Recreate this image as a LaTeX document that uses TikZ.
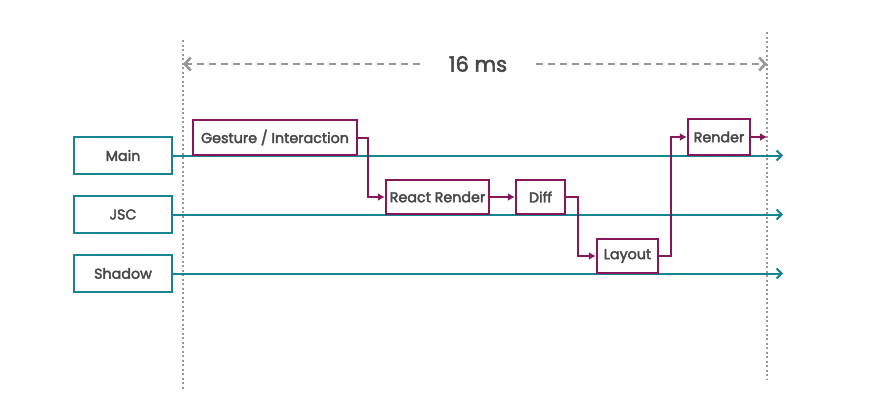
\documentclass[tikz,border=0pt]{standalone}
\usepackage{fontspec}
\setmainfont{Poppins}
\newfontfamily\labelfont{Poppins}[FakeBold=2.6]
\usetikzlibrary{positioning,calc,arrows.meta}
\definecolor{laneteal}{RGB}{24,134,145}
\definecolor{stepplum}{RGB}{135,22,90}
\definecolor{spangray}{RGB}{150,152,150}
\definecolor{txtgray}{RGB}{72,72,72}
\tikzset{
    lane/.style={draw=laneteal, line width=2.4pt, minimum width=98pt, minimum height=37pt, text=txtgray, font=\labelfont\fontsize{14.3}{16}\selectfont},
    stepbox/.style={draw=stepplum, line width=2.4pt, minimum height=35pt, text=txtgray, inner sep=3pt, fill=white, font=\labelfont\fontsize{14.3}{16}\selectfont},
    thread/.style={draw=laneteal, line width=2pt, -{Straight Barb[length=5pt,width=10pt,line width=2pt]}},
    flow/.style={draw=stepplum, line width=2pt, -{Latex[length=7pt,width=8pt]}},
    frame/.style={draw=spangray, line width=1.5pt, dash pattern=on 2pt off 2.5pt},
    span/.style={draw=spangray, line width=2.6pt, dash pattern=on 7pt off 5pt, -{Straight Barb[length=6pt,width=13pt,line width=2.6pt]}}
}
\begin{document}
\begin{tikzpicture}[x=1pt, y=-1pt]
    \useasboundingbox[fill=white] (0,0) rectangle (878,407);

    % 16 ms frame
    \coordinate (fstart) at (183,40);
    \coordinate (fstartend) at (183,390);
    \coordinate (fend) at (767,32);
    \coordinate (fendend) at (767,380);
    \draw[frame] (fstart) -- (fstartend);
    \draw[frame] (fend) -- (fendend);
    \node[text=txtgray, font=\labelfont\fontsize{21}{24}\selectfont] (span) at (478,64) {16 ms};
    \coordinate (spanleft) at (183,64);
    \coordinate (spanright) at (767,64);
    \draw[span] ([xshift=-25pt]span.west) -- (spanleft);
    \draw[span] ([xshift=25pt]span.east) -- (spanright);

    % Threads
    \node[lane] (main) at (123,155.5) {Main};
    \node[lane] (jsc) at (123,214.5) {JSC};
    \node[lane] (shadow) at (123,273.5) {Shadow};
    \coordinate (mainend) at (783,155.5);
    \coordinate (jscend) at (783,214.5);
    \coordinate (shadowend) at (783,273.5);
    \draw[thread] (main) -- (mainend);
    \draw[thread] (jsc) -- (jscend);
    \draw[thread] (shadow) -- (shadowend);

    % Steps
    \node[stepbox, minimum width=164pt] (gesture) at (275,137.5) {Gesture / Interaction};
    \node[stepbox, minimum width=103pt, minimum height=34pt] (react) at (437.5,197) {React Render};
    \node[stepbox, minimum width=49pt, minimum height=34pt] (diff) at (540.5,197) {Diff};
    \node[stepbox, minimum width=61pt, minimum height=34pt] (layout) at (627.5,256) {Layout};
    \node[stepbox, minimum width=62pt, minimum height=36pt] (render) at (719,137) {Render};
    \coordinate (renderout) at (767,137);

    \draw[flow] (gesture.east) -- ++(10,0) |- (react.west);
    \draw[flow] (react) -- (diff);
    \draw[flow] (diff.east) -- ++(12,0) |- (layout.west);
    \draw[flow] (layout.east) -- ++(12,0) |- (render.west);
    \draw[flow] (render.east) -- (renderout);
\end{tikzpicture}
\end{document}
